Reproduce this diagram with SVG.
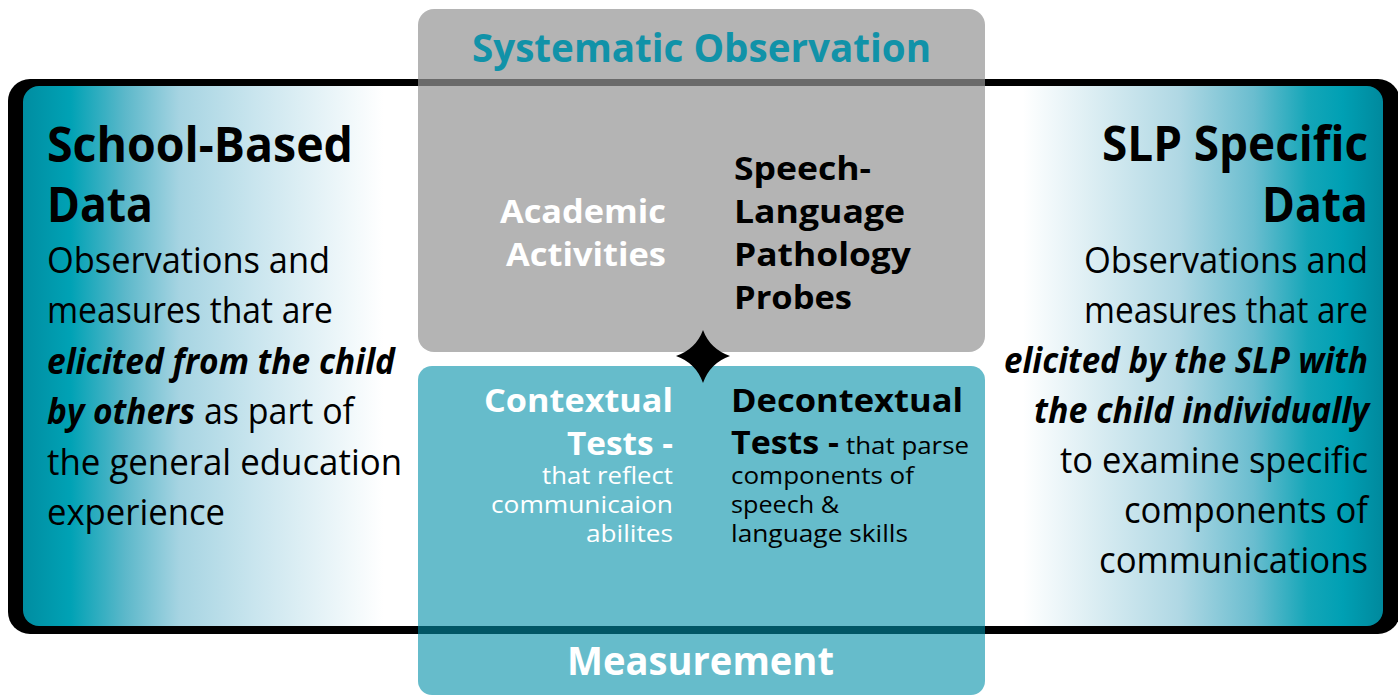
<svg xmlns="http://www.w3.org/2000/svg" width="1398" height="696" viewBox="0 0 1398 696">
  <defs>
    <linearGradient id="panelFill" x1="23" y1="0" x2="1383" y2="0" gradientUnits="userSpaceOnUse">
      <stop offset="0" stop-color="#008da1"/>
      <stop offset="0.035" stop-color="#00a2b5"/>
      <stop offset="0.075" stop-color="#5cb8ca"/>
      <stop offset="0.115" stop-color="#a6d4e2"/>
      <stop offset="0.17" stop-color="#c9e5ee"/>
      <stop offset="0.265" stop-color="#ffffff"/>
      <stop offset="0.735" stop-color="#ffffff"/>
      <stop offset="0.85" stop-color="#b0d8e4"/>
      <stop offset="0.905" stop-color="#6abdcf"/>
      <stop offset="0.945" stop-color="#14a6b8"/>
      <stop offset="0.97" stop-color="#00a0b4"/>
      <stop offset="1" stop-color="#00899d"/>
    </linearGradient>
    <style>
      text { font-family: "Open Sans", "Liberation Sans", sans-serif; }
      .title { font-size: 48px; font-weight: 700; fill: #000; }
      .body { font-size: 36px; font-weight: 400; fill: #000; }
      .emph { font-size: 36px; font-weight: 700; font-style: italic; fill: #000; }
      .head { font-size: 33px; font-weight: 700; }
      .small { font-size: 24px; font-weight: 400; }
      .white { fill: #ffffff; }
      .black { fill: #000000; }
      .band { font-size: 39px; font-weight: 700; }
    </style>
  </defs>

  <!-- outer frame and the two-sided gradient panel -->
  <g id="frame">
    <rect x="8" y="79" width="1392" height="555" rx="22" fill="#000"/>
    <rect x="23" y="86" width="1360" height="540" rx="16" fill="url(#panelFill)"/>
  </g>

  <!-- upper grey box -->
  <g id="systematic-observation">
    <rect x="418" y="9" width="567" height="343" rx="16" fill="#969696" fill-opacity="0.71"/>
    <text class="band" x="472" y="62" textLength="459" lengthAdjust="spacingAndGlyphs" fill="#1192a8">Systematic Observation</text>
    <text class="head white" x="500" y="223" textLength="166" lengthAdjust="spacingAndGlyphs">Academic</text>
    <text class="head white" x="506" y="266" textLength="160" lengthAdjust="spacingAndGlyphs">Activities</text>
    <text class="head black" x="734" y="180" textLength="137" lengthAdjust="spacingAndGlyphs">Speech-</text>
    <text class="head black" x="734" y="223" textLength="171" lengthAdjust="spacingAndGlyphs">Language</text>
    <text class="head black" x="734" y="266" textLength="177" lengthAdjust="spacingAndGlyphs">Pathology</text>
    <text class="head black" x="734" y="309" textLength="118" lengthAdjust="spacingAndGlyphs">Probes</text>
  </g>

  <!-- lower teal box -->
  <g id="measurement">
    <rect x="418" y="366" width="567" height="329" rx="14" fill="#0090a9" fill-opacity="0.6"/>
    <text class="head white" x="484" y="412" textLength="189" lengthAdjust="spacingAndGlyphs">Contextual</text>
    <text class="head white" x="567" y="455" textLength="106" lengthAdjust="spacingAndGlyphs">Tests -</text>
    <text class="small white" x="542" y="484" textLength="131" lengthAdjust="spacingAndGlyphs">that reflect</text>
    <text class="small white" x="491" y="513" textLength="182" lengthAdjust="spacingAndGlyphs">communicaion</text>
    <text class="small white" x="586" y="542" textLength="87" lengthAdjust="spacingAndGlyphs">abilites</text>
    <text class="head black" x="731" y="412" textLength="232" lengthAdjust="spacingAndGlyphs">Decontextual</text>
    <text class="head black" x="731" y="454" textLength="108" lengthAdjust="spacingAndGlyphs">Tests -</text>
    <text class="small black" x="846" y="454" textLength="123" lengthAdjust="spacingAndGlyphs">that parse</text>
    <text class="small black" x="731" y="484" textLength="183" lengthAdjust="spacingAndGlyphs">components of</text>
    <text class="small black" x="731" y="513" textLength="108" lengthAdjust="spacingAndGlyphs">speech &amp;</text>
    <text class="small black" x="731" y="542" textLength="177" lengthAdjust="spacingAndGlyphs">language skills</text>
    <text class="band white" x="567" y="675" textLength="267" lengthAdjust="spacingAndGlyphs">Measurement</text>
  </g>

  <!-- left column -->
  <g id="school-based-data">
    <text class="title" x="47" y="162" textLength="306" lengthAdjust="spacingAndGlyphs">School-Based</text>
    <text class="title" x="47" y="222" textLength="106" lengthAdjust="spacingAndGlyphs">Data</text>
    <text class="body" x="47" y="273" textLength="283" lengthAdjust="spacingAndGlyphs">Observations and</text>
    <text class="body" x="47" y="323" textLength="286" lengthAdjust="spacingAndGlyphs">measures that are</text>
    <text class="emph" x="47" y="374" textLength="348" lengthAdjust="spacingAndGlyphs">elicited from the child</text>
    <text class="emph" x="47" y="424" textLength="148" lengthAdjust="spacingAndGlyphs">by others</text>
    <text class="body" x="204" y="424" textLength="150" lengthAdjust="spacingAndGlyphs">as part of</text>
    <text class="body" x="47" y="475" textLength="355" lengthAdjust="spacingAndGlyphs">the general education</text>
    <text class="body" x="47" y="525" textLength="178" lengthAdjust="spacingAndGlyphs">experience</text>
  </g>

  <!-- right column -->
  <g id="slp-specific-data">
    <text class="title" x="1102" y="161" textLength="266" lengthAdjust="spacingAndGlyphs">SLP Specific</text>
    <text class="title" x="1262" y="222" textLength="106" lengthAdjust="spacingAndGlyphs">Data</text>
    <text class="body" x="1084" y="273" textLength="284" lengthAdjust="spacingAndGlyphs">Observations and</text>
    <text class="body" x="1084" y="323" textLength="284" lengthAdjust="spacingAndGlyphs">measures that are</text>
    <text class="emph" x="1004" y="373" textLength="364" lengthAdjust="spacingAndGlyphs">elicited by the SLP with</text>
    <text class="emph" x="1034" y="423" textLength="335" lengthAdjust="spacingAndGlyphs">the child individually</text>
    <text class="body" x="1060" y="473" textLength="308" lengthAdjust="spacingAndGlyphs">to examine specific</text>
    <text class="body" x="1124" y="523" textLength="244" lengthAdjust="spacingAndGlyphs">components of</text>
    <text class="body" x="1099" y="573" textLength="269" lengthAdjust="spacingAndGlyphs">communications</text>
  </g>

  <!-- four-point star joining the two boxes -->
  <g id="star">
    <path d="M703,330 Q710,349 730,356 Q710,363 703,383 Q696,363 676,356 Q696,349 703,330 Z" fill="#000"/>
  </g>
</svg>
